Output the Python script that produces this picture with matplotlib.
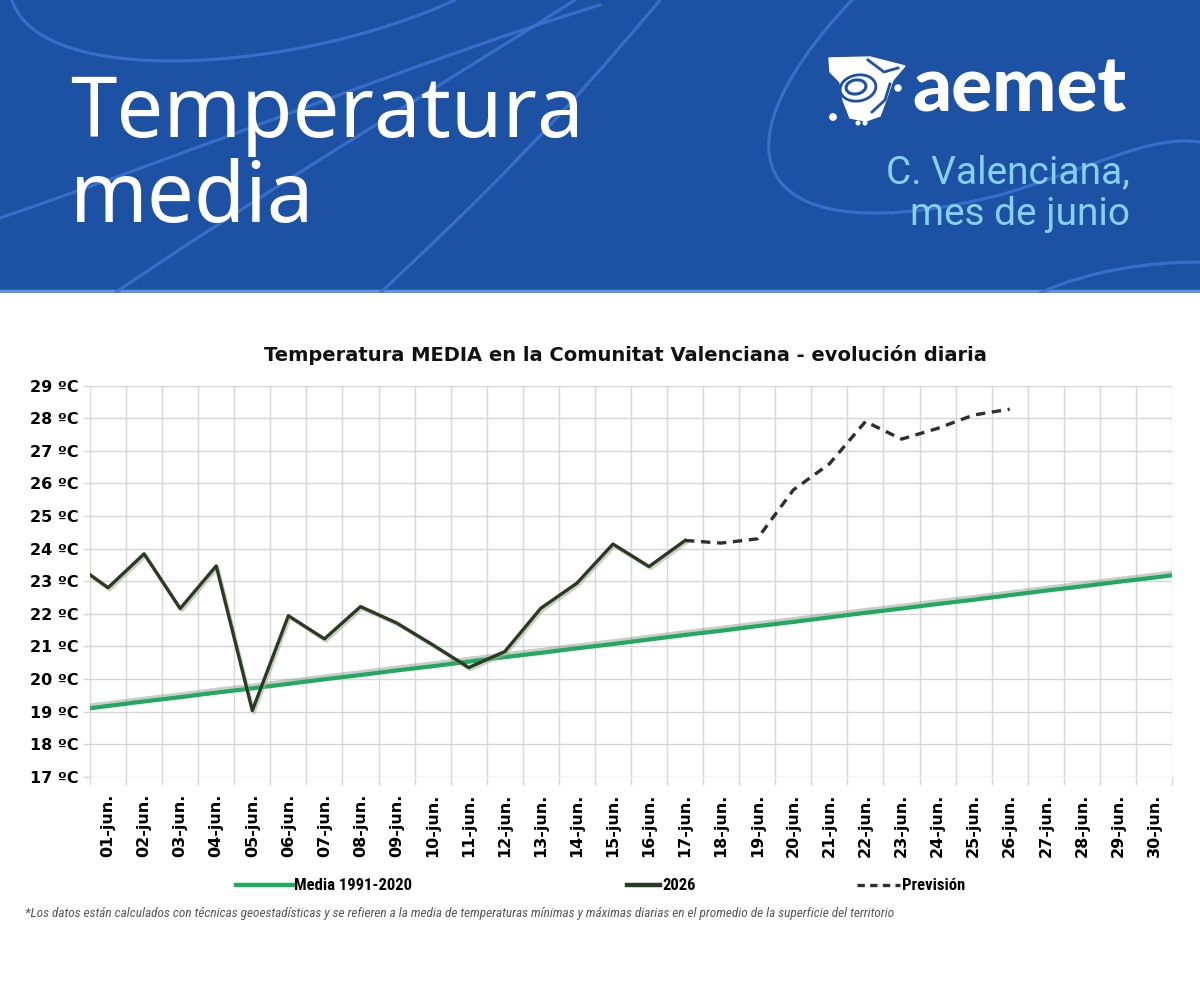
import matplotlib
matplotlib.use("Agg")
import matplotlib.pyplot as plt
from matplotlib import font_manager
from matplotlib.path import Path
from matplotlib.patches import PathPatch, Rectangle, Polygon, Ellipse, Circle
import matplotlib.patheffects as pe
from matplotlib.lines import Line2D
import numpy as np

# ---------------- data ----------------
day_labels = ["01-jun.", "02-jun.", "03-jun.", "04-jun.", "05-jun.", "06-jun.",
              "07-jun.", "08-jun.", "09-jun.", "10-jun.", "11-jun.", "12-jun.",
              "13-jun.", "14-jun.", "15-jun.", "16-jun.", "17-jun.", "18-jun.",
              "19-jun.", "20-jun.", "21-jun.", "22-jun.", "23-jun.", "24-jun.",
              "25-jun.", "26-jun.", "27-jun.", "28-jun.", "29-jun.", "30-jun."]
day_pos = list(range(1, 31))

# climatological mean 1991-2020 (31-may .. 01-jul, drawn edge to edge)
media_days = list(range(0, 32))
media_vals = [19.03, 19.17, 19.31, 19.44, 19.58, 19.71, 19.85, 19.99, 20.12, 20.26,
              20.39, 20.53, 20.67, 20.80, 20.94, 21.07, 21.21, 21.35, 21.48, 21.62,
              21.75, 21.89, 22.03, 22.16, 22.30, 22.43, 22.57, 22.71, 22.84, 22.98,
              23.11, 23.25]

# observed 2026 (31-may .. 17-jun)
obs_days = list(range(0, 18))
obs_vals = [23.6, 22.8, 23.84, 22.16, 23.47, 19.03, 21.94, 21.23, 22.22, 21.72,
            21.05, 20.35, 20.84, 22.17, 22.94, 24.14, 23.45, 24.25]

# forecast (17-jun .. 26-jun)
fc_days = list(range(17, 27))
fc_vals = [24.25, 24.17, 24.30, 25.80, 26.60, 27.90, 27.36, 27.69, 28.10, 28.28]

y_ticks = list(range(17, 30))
y_tick_labels = [f"{t} ºC" for t in y_ticks]

chart_title = "Temperatura MEDIA en la Comunitat Valenciana - evolución diaria"
legend_labels = ["Media 1991-2020", "2026", "Previsión"]
footnote = ("*Los datos están calculados con técnicas geoestadísticas y se refieren a la media "
            "de temperaturas mínimas y máximas diarias en el promedio de la superficie del territorio")

# ---------------- styles ----------------
BLUE = "#1d51a3"
CURVE = "#3b74cf"
GREEN = "#1faa5e"
DARK = "#2b3a24"
DASH = "#2f2f2f"
GRID = "#d6d6d6"

available = {f.name for f in font_manager.fontManager.ttflist}
narrow = None
for cand in ["Liberation Sans Narrow", "Roboto Condensed", "Open Sans Condensed",
             "DejaVu Sans Condensed"]:
    if cand in available:
        narrow = cand
        break
if narrow is None:
    narrow_family, leg_size, foot_size = "Roboto", 10.5, 8.8
else:
    narrow_family, leg_size, foot_size = narrow, 12, 9.5

W, H = 1200, 1000
fig = plt.figure(figsize=(12, 10), dpi=100)
fig.patch.set_facecolor("white")

# ---------------- header ----------------
hax = fig.add_axes([0, 1 - 293 / H, 1, 293 / H])
hax.set_xlim(0, W)
hax.set_ylim(293, 0)
hax.axis("off")
hax.add_patch(Rectangle((0, 0), W, 293, color=BLUE, zorder=0))
hax.add_patch(Rectangle((0, 290), W, 3, color="#5f95dd", zorder=0))

def bez(pts, lw=2.3, alpha=0.85):
    codes = [Path.MOVETO] + [Path.CURVE4] * (len(pts) - 1)
    hax.add_patch(PathPatch(Path(pts, codes), fill=False, edgecolor=CURVE,
                            lw=lw, alpha=alpha, zorder=1, capstyle="round"))

bez([(12, 0), (40, 90), (300, 72), (455, 0)])
bez([(0, 218), (200, 150), (420, 60), (600, 5)])
bez([(115, 293), (250, 200), (450, 80), (575, 0)])
bez([(380, 293), (480, 200), (560, 120), (660, 0)])
bez([(852, 0), (700, 160), (760, 255), (1000, 195),
     (1100, 165), (1150, 135), (1200, 142)])
bez([(1040, 293), (1090, 270), (1150, 262), (1200, 262)])

# title texts
hax.text(70, 137, "Temperatura", color="white", fontsize=60, family="Noto Sans",
         va="baseline", ha="left", zorder=3)
hax.text(70, 222, "media", color="white", fontsize=60, family="Noto Sans",
         va="baseline", ha="left", zorder=3)
hax.text(1130, 183, "C. Valenciana,", color="#86d0f6", fontsize=28, family="Roboto",
         va="baseline", ha="right", zorder=3)
hax.text(1130, 225, "mes de junio", color="#86d0f6", fontsize=28, family="Roboto",
         va="baseline", ha="right", zorder=3)

# aemet logo
hax.text(912, 112, "aemet", color="white", fontsize=55, family="Lato",
         fontweight="black", va="baseline", ha="left", zorder=3)
logo = [(829, 58), (870, 57), (905, 66), (893, 80), (886, 100), (880, 116),
        (866, 121), (850, 118), (843, 100), (840, 82), (830, 72)]
hax.add_patch(Polygon(logo, closed=True, color="white", zorder=3))
hax.add_patch(Ellipse((856, 87), 20, 14, angle=-10, fill=False, edgecolor=BLUE, lw=2.2, zorder=4))
hax.add_patch(Ellipse((858, 88), 36, 26, angle=-10, fill=False, edgecolor=BLUE, lw=2.0, zorder=4))
hax.plot([868, 884, 898], [60, 72, 68], color=BLUE, lw=2, zorder=4)
hax.plot([872, 885, 890], [112, 100, 84], color=BLUE, lw=2, zorder=4)
hax.add_patch(Circle((833, 117), 3.2, color="white", zorder=4))
hax.add_patch(Circle((898, 88), 3.0, color="white", zorder=4))
hax.add_patch(Circle((858, 123), 1.8, color="white", zorder=4))
hax.add_patch(Circle((865, 123), 1.8, color="white", zorder=4))

# ---------------- chart ----------------
ax = fig.add_axes([90 / W, 1 - 776.7 / H, (1172 - 90) / W, (776.7 - 385.7) / H])
ax.set_xlim(0.5, 30.5)
ax.set_ylim(17, 29)
for s in ax.spines.values():
    s.set_visible(False)

ax.set_xticks(day_pos)
ax.set_xticklabels(day_labels, rotation=90, fontweight="bold", fontsize=11.5)
ax.set_xticks(np.arange(0.5, 31, 1), minor=True)
ax.tick_params(axis="x", which="major", length=0, pad=12)
ax.tick_params(axis="x", which="minor", length=6, color=GRID, width=1)
ax.grid(which="minor", axis="x", color=GRID, lw=1, zorder=0)

ax.set_yticks(y_ticks)
ax.set_yticklabels(y_tick_labels, fontweight="bold", fontsize=11.5)
ax.tick_params(axis="y", length=5, color=GRID, width=1, pad=3)
ax.grid(which="major", axis="y", color=GRID, lw=1, zorder=0)

ax.plot(media_days, media_vals, color=GREEN, lw=3.0, zorder=3,
        solid_capstyle="butt",
        path_effects=[pe.SimpleLineShadow(offset=(0, 2.0), shadow_color="#7f7f7f", alpha=0.4),
                      pe.Normal()])
ax.plot(obs_days, obs_vals, color=DARK, lw=2.4, zorder=4,
        path_effects=[pe.SimpleLineShadow(offset=(1.2, -1.5), shadow_color="#9fae93", alpha=0.55),
                      pe.Normal()])
ax.plot(fc_days, fc_vals, color=DASH, lw=2.4, dashes=(2.8, 2.0), zorder=4)

fig.text(625 / W, 1 - 355 / H, chart_title, ha="center", va="center",
         fontweight="bold", fontsize=14, color="#111111")

# ---------------- legend ----------------
leg_font = {"family": narrow_family, "weight": "bold", "size": leg_size}
handles = [Line2D([], [], color=GREEN, lw=3.2),
           Line2D([], [], color=DARK, lw=3.2),
           Line2D([], [], color=DASH, lw=2.4, dashes=(2.2, 1.6))]
leg_x = [236, 627, 857]
leg_len = [3.4, 2.0, 2.6]
for h, lab, x, hl in zip(handles, legend_labels, leg_x, leg_len):
    fig.legend(handles=[h], labels=[lab], loc="center left",
               bbox_to_anchor=(x / W, 1 - 886 / H), frameon=False,
               prop=leg_font, handlelength=hl, handletextpad=0.1,
               borderpad=0, borderaxespad=0)

fig.text(25 / W, 1 - 913 / H, footnote, ha="left", va="center", fontsize=foot_size,
         family=narrow_family, style="italic", color="#555555")

fig.savefig("out.png", dpi=100, facecolor="white")
